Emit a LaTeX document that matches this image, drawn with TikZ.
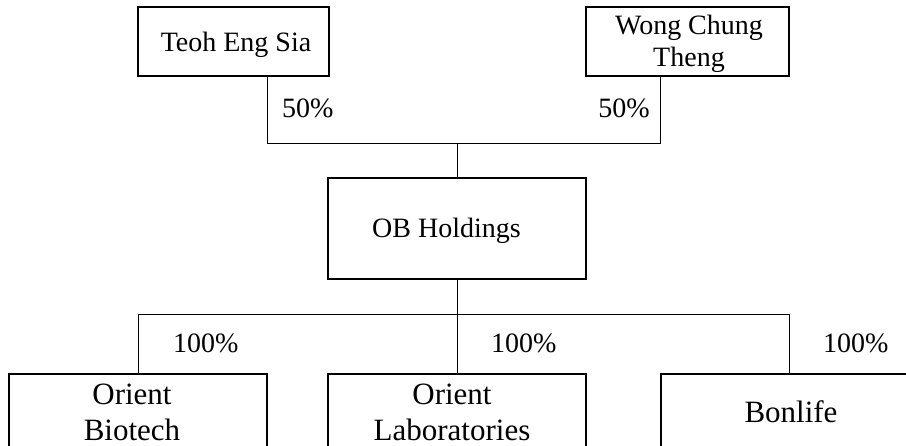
\documentclass[tikz,border=0pt]{standalone}
\usepackage{fontspec}
\setmainfont{Liberation Serif}
\begin{document}
\begin{tikzpicture}[x=1pt,y=-1pt,
  boxnode/.style={draw=black,line width=1.2pt,rectangle,inner sep=0pt,outer sep=0pt},
  toptext/.style={inner sep=0pt,font=\fontsize{28}{32}\selectfont},
  bottext/.style={inner sep=0pt,font=\fontsize{31}{35.5}\selectfont},
  conn/.style={draw=black,line width=1pt}]
\useasboundingbox (0,0) rectangle (906,446);
\clip (0,0) rectangle (906,446);
% boxes
\node[boxnode,minimum width=191pt,minimum height=69pt] (teoh) at (233.5,41.5) {};
\node[boxnode,minimum width=203pt,minimum height=69pt] (wong) at (687.5,41.5) {};
\node[boxnode,minimum width=258pt,minimum height=101pt] (ob) at (457,228.5) {};
\node[boxnode,minimum width=258pt,minimum height=106pt] (bio) at (138,427) {};
\node[boxnode,minimum width=258pt,minimum height=106pt] (lab) at (457,427) {};
\node[boxnode,minimum width=259pt,minimum height=106pt] (bon) at (790.5,427) {};
% texts
\node[toptext,anchor=base] (teohT) at (236,52) {Teoh Eng Sia};
\node[toptext,anchor=base] (wongT) at (689,35) {\begin{tabular}[t]{@{}c@{}}Wong Chung\\Theng\end{tabular}};
\node[toptext,anchor=base west] (obT) at (372,238) {OB Holdings};
\node[bottext,anchor=base] (bioT) at (132,405) {\begin{tabular}[t]{@{}c@{}}Orient\\Biotech\end{tabular}};
\node[bottext,anchor=base] (labT) at (452,405) {\begin{tabular}[t]{@{}c@{}}Orient\\Laboratories\end{tabular}};
\node[bottext,anchor=base] (bonT) at (791,423) {Bonlife};
% percentages
\node[toptext,anchor=base west] (p1) at (282,118) {50\%};
\node[toptext,anchor=base east] (p2) at (650,118) {50\%};
\node[toptext,anchor=base west] (p3) at (173,353) {100\%};
\node[toptext,anchor=base west] (p4) at (491,353) {100\%};
\node[toptext,anchor=base west] (p5) at (823,353) {100\%};
% connectors
\coordinate (j1) at (267,144);
\coordinate (j2) at (660,144);
\coordinate (b1) at (138,315);
\coordinate (b3) at (789,315);
\draw[conn] (teoh.south -| j1) -- (j1) -- (j2) -- (wong.south -| j2);
\draw[conn] (ob.north) -- (ob.north |- j1);
\draw[conn] (bio.north) -- (b1) -- (b3) -- (bon.north -| b3);
\draw[conn] (ob.south) -- (lab.north);
\end{tikzpicture}
\end{document}
